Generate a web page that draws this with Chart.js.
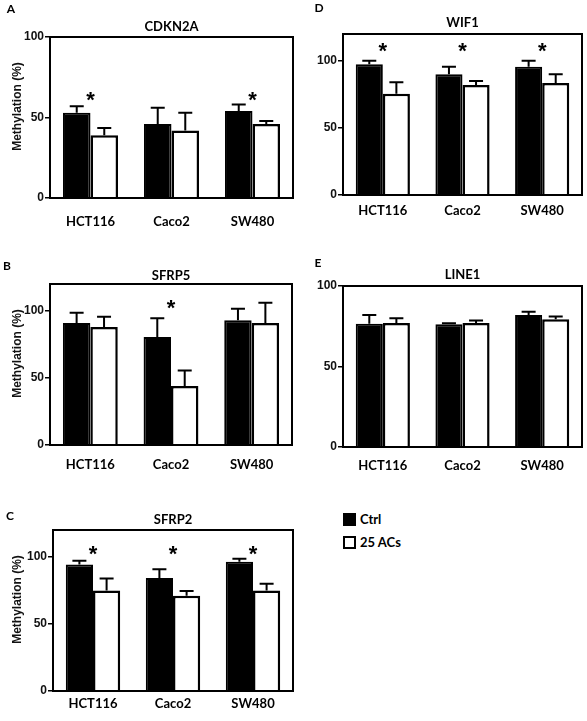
<!DOCTYPE html>
<html>
<head>
<meta charset="utf-8">
<script src="https://cdn.jsdelivr.net/npm/chart.js@4/dist/chart.umd.min.js"></script>
<style>
body { margin: 0; background: #fff; width: 587px; height: 721px; position: relative; overflow: hidden; }
canvas { position: absolute; }
.key { position: absolute; left: 343px; font: bold 13px Lato, sans-serif; color: #000; line-height: 13px; }
.key span.box { display: inline-block; width: 13px; height: 13px; box-sizing: border-box; vertical-align: top; margin-right: 4px; }
</style>
</head>
<body>
<canvas id="panelA"></canvas>
<canvas id="panelB"></canvas>
<canvas id="panelC"></canvas>
<canvas id="panelD"></canvas>
<canvas id="panelE"></canvas>
<div class="key" style="top:513px"><span class="box" style="background:#000"></span>Ctrl</div>
<div class="key" style="top:536px"><span class="box" style="border:2px solid #000;background:#fff"></span>25 ACs</div>
<script>
const cellLines = ['HCT116', 'Caco2', 'SW480'];
const seriesNames = ['Ctrl', '25 ACs'];
const yTicks = [0, 50, 100];

// A - CDKN2A
const cdkn2aCtrl = [53, 46, 54];
const cdkn2aCtrlErr = [4, 10, 4];
const cdkn2aAcs = [39, 42, 46];
const cdkn2aAcsErr = [4.5, 11, 1.8];
const cdkn2aStars = [64, null, 64];

// B - SFRP5
const sfrp5Ctrl = [91, 80.5, 93];
const sfrp5CtrlErr = [7.5, 14, 8.5];
const sfrp5Acs = [88, 44, 91];
const sfrp5AcsErr = [7.5, 11.5, 15];
const sfrp5Stars = [null, 106, null];

// C - SFRP2
const sfrp2Ctrl = [94.3, 84.3, 96.3];
const sfrp2CtrlErr = [2.7, 6.5, 2.2];
const sfrp2Acs = [75, 71, 75];
const sfrp2AcsErr = [8.8, 3.6, 5];
const sfrp2Stars = [106, 106, 106];

// D - WIF1
const wif1Ctrl = [97.5, 90, 95.5];
const wif1CtrlErr = [2.5, 5.5, 4.5];
const wif1Acs = [75.5, 82, 83.5];
const wif1AcsErr = [8.5, 3, 6.5];
const wif1Stars = [111, 111, 111];

// E - LINE1
const line1Ctrl = [76.5, 76.3, 82];
const line1CtrlErr = [5.5, 0.5, 2];
const line1Acs = [77, 77, 79.3];
const line1AcsErr = [3, 1.5, 1.8];
const line1Stars = [null, null, null];

// page layout of each panel (box = plot frame left, top, right, bottom)
const panels = [
    {id: 'panelA', letter: 'A', title: 'CDKN2A', max: 100, left: 0, top: 0, box: [50, 37, 293, 198],
     ctrl: cdkn2aCtrl, ctrlErr: cdkn2aCtrlErr, acs: cdkn2aAcs, acsErr: cdkn2aAcsErr, stars: cdkn2aStars,
     letterPos: [11, 9], titleGap: 10, labelGap: 16, yTitle: true},
    {id: 'panelB', letter: 'B', title: 'SFRP5', max: 120, left: 0, top: 250, box: [50, 284, 292, 445],
     ctrl: sfrp5Ctrl, ctrlErr: sfrp5CtrlErr, acs: sfrp5Acs, acsErr: sfrp5AcsErr, stars: sfrp5Stars,
     letterPos: [7, 266], titleGap: 8, labelGap: 12, yTitle: true},
    {id: 'panelC', letter: 'C', title: 'SFRP2', max: 120, left: 0, top: 495, box: [53, 530, 293, 691],
     ctrl: sfrp2Ctrl, ctrlErr: sfrp2CtrlErr, acs: sfrp2Acs, acsErr: sfrp2AcsErr, stars: sfrp2Stars,
     letterPos: [10, 516], titleGap: 10, labelGap: 5, yTitle: true},
    {id: 'panelD', letter: 'D', title: 'WIF1', max: 120, left: 300, top: 0, box: [343, 34, 582, 195],
     ctrl: wif1Ctrl, ctrlErr: wif1CtrlErr, acs: wif1Acs, acsErr: wif1AcsErr, stars: wif1Stars,
     letterPos: [319, 8], titleGap: 11, labelGap: 8, yTitle: false},
    {id: 'panelE', letter: 'E', title: 'LINE1', max: 100, left: 300, top: 250, box: [343, 286, 582, 447],
     ctrl: line1Ctrl, ctrlErr: line1CtrlErr, acs: line1Acs, acsErr: line1AcsErr, stars: line1Stars,
     letterPos: [318, 263], titleGap: 11, labelGap: 11, yTitle: false}
];

// Frame, error bars, stars, titles
const panelDecor = {
    id: 'panelDecor',
    afterDatasetsDraw(chart, args, opts) {
        const ctx = chart.ctx;
        const area = chart.chartArea;
        const yScale = chart.scales.y;
        const xScale = chart.scales.x;
        const p = opts.panel;
        ctx.save();

        // error bars (upper only)
        ctx.strokeStyle = '#000';
        ctx.lineWidth = 2;
        chart.data.datasets.forEach((ds, di) => {
            chart.getDatasetMeta(di).data.forEach((bar, i) => {
                const top = yScale.getPixelForValue(ds.data[i] + ds.errors[i]);
                ctx.beginPath();
                ctx.moveTo(bar.x, bar.y);
                ctx.lineTo(bar.x, top);
                ctx.moveTo(bar.x - 7, top);
                ctx.lineTo(bar.x + 7, top);
                ctx.stroke();
            });
        });

        // frame
        ctx.lineWidth = 2;
        ctx.strokeRect(area.left, area.top, area.right - area.left, area.bottom - area.top);

        // stars
        ctx.fillStyle = '#000';
        ctx.font = 'bold 22px "Liberation Sans"';
        ctx.textAlign = 'center';
        ctx.textBaseline = 'alphabetic';
        p.stars.forEach((v, i) => {
            if (v === null) return;
            ctx.fillText('*', xScale.getPixelForValue(i), yScale.getPixelForValue(v) + 12);
        });

        // title
        ctx.font = 'bold 13px Lato';
        ctx.textBaseline = 'middle';
        ctx.fillText(p.title, (area.left + area.right) / 2, area.top - p.titleGap);

        // panel letter
        ctx.font = 'bold 12px Lato';
        ctx.fillText(p.letter, p.letterPos[0] - p.left, p.letterPos[1] - p.top);

        // y axis title
        if (p.yTitle) {
            ctx.translate(18 - p.left, (area.top + area.bottom) / 2 - 11);
            ctx.rotate(-Math.PI / 2);
            ctx.font = 'bold 12px "Liberation Sans"';
            ctx.fillStyle = '#111';
            ctx.fillText('Methylation (%)', 0, 0);
        }
        ctx.restore();
    }
};

function createPanel(p) {
    const canvas = document.getElementById(p.id);
    const width = p.box[2] + 5 - p.left;
    const height = Math.min(p.box[3] + 30, 721) - p.top;
    canvas.width = width;
    canvas.height = height;
    canvas.style.left = p.left + 'px';
    canvas.style.top = p.top + 'px';
    canvas.style.width = width + 'px';
    canvas.style.height = height + 'px';

    return new Chart(canvas.getContext('2d'), {
        type: 'bar',
        data: {
            labels: cellLines,
            datasets: [{
                label: seriesNames[0],
                data: p.ctrl,
                errors: p.ctrlErr,
                backgroundColor: '#000',
                borderColor: '#000',
                borderWidth: 2
            }, {
                label: seriesNames[1],
                data: p.acs,
                errors: p.acsErr,
                backgroundColor: '#fff',
                borderColor: '#000',
                borderWidth: 2.5
            }]
        },
        options: {
            responsive: false,
            animation: false,
            categoryPercentage: 0.68,
            barPercentage: 1,
            layout: {
                padding: {
                    top: p.box[1] - p.top,
                    left: 0,
                    right: width - (p.box[2] - p.left),
                    bottom: Math.max(0, height - (p.box[3] - p.top) - 30)
                }
            },
            plugins: {
                legend: {display: false},
                tooltip: {enabled: false},
                panelDecor: {panel: p}
            },
            scales: {
                x: {
                    afterFit(s) { s.height = 30; },
                    border: {display: true, color: '#000', width: 2},
                    grid: {display: false, drawTicks: false},
                    ticks: {
                        padding: p.labelGap,
                        color: '#000',
                        font: {family: 'Lato', weight: 'bold', size: 13}
                    }
                },
                y: {
                    min: 0,
                    max: p.max,
                    afterFit(s) { s.width = p.box[0] - p.left; },
                    afterBuildTicks(s) { s.ticks = yTicks.map(v => ({value: v})); },
                    border: {display: true, color: '#000', width: 2},
                    grid: {display: true, drawOnChartArea: false, drawTicks: true, tickLength: 5, color: '#000', lineWidth: 1.5},
                    ticks: {
                        padding: 1,
                        color: '#111',
                        font: {family: 'Liberation Sans', weight: 'bold', size: 12}
                    }
                }
            }
        },
        plugins: [panelDecor]
    });
}

panels.forEach(createPanel);
</script>
</body>
</html>
